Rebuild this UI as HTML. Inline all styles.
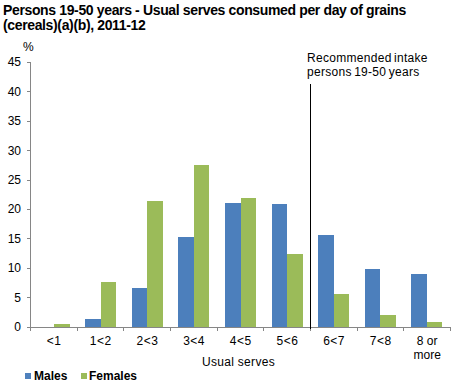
<!DOCTYPE html>
<html><head><meta charset="utf-8"><style>
html,body{margin:0;padding:0;background:#fff;}
body{width:456px;height:388px;position:relative;overflow:hidden;font-family:"Liberation Sans",sans-serif;color:#000;}
.t{position:absolute;white-space:nowrap;line-height:1;}
.title{font-weight:bold;font-size:14px;letter-spacing:-0.36px;}
.lab{font-size:12px;}
svg{position:absolute;left:0;top:0;}
</style></head><body>
<svg width="456" height="388" viewBox="0 0 456 388" shape-rendering="crispEdges">
<rect x="54" y="324" width="16" height="3" fill="#9BBB59"/>
<rect x="85" y="319" width="16" height="8" fill="#4C7FBC"/>
<rect x="101" y="282" width="15" height="45" fill="#9BBB59"/>
<rect x="132" y="288" width="15" height="39" fill="#4C7FBC"/>
<rect x="147" y="201" width="16" height="126" fill="#9BBB59"/>
<rect x="178" y="237" width="16" height="90" fill="#4C7FBC"/>
<rect x="194" y="165" width="15" height="162" fill="#9BBB59"/>
<rect x="225" y="203" width="16" height="124" fill="#4C7FBC"/>
<rect x="241" y="198" width="15" height="129" fill="#9BBB59"/>
<rect x="272" y="204" width="15" height="123" fill="#4C7FBC"/>
<rect x="287" y="254" width="16" height="73" fill="#9BBB59"/>
<rect x="318" y="235" width="16" height="92" fill="#4C7FBC"/>
<rect x="334" y="294" width="15" height="33" fill="#9BBB59"/>
<rect x="365" y="269" width="15" height="58" fill="#4C7FBC"/>
<rect x="380" y="315" width="16" height="12" fill="#9BBB59"/>
<rect x="411" y="274" width="16" height="53" fill="#4C7FBC"/>
<rect x="427" y="322" width="15" height="5" fill="#9BBB59"/>
<rect x="30" y="62" width="1" height="266" fill="#868686"/>
<rect x="30" y="327" width="421" height="1" fill="#868686"/>
<rect x="27" y="62" width="3" height="1" fill="#868686"/>
<rect x="27" y="91" width="3" height="1" fill="#868686"/>
<rect x="27" y="121" width="3" height="1" fill="#868686"/>
<rect x="27" y="150" width="3" height="1" fill="#868686"/>
<rect x="27" y="180" width="3" height="1" fill="#868686"/>
<rect x="27" y="209" width="3" height="1" fill="#868686"/>
<rect x="27" y="238" width="3" height="1" fill="#868686"/>
<rect x="27" y="268" width="3" height="1" fill="#868686"/>
<rect x="27" y="297" width="3" height="1" fill="#868686"/>
<rect x="27" y="327" width="3" height="1" fill="#868686"/>
<rect x="30" y="328" width="1" height="3" fill="#868686"/>
<rect x="77" y="328" width="1" height="3" fill="#868686"/>
<rect x="123" y="328" width="1" height="3" fill="#868686"/>
<rect x="170" y="328" width="1" height="3" fill="#868686"/>
<rect x="217" y="328" width="1" height="3" fill="#868686"/>
<rect x="263" y="328" width="1" height="3" fill="#868686"/>
<rect x="310" y="328" width="1" height="3" fill="#868686"/>
<rect x="357" y="328" width="1" height="3" fill="#868686"/>
<rect x="403" y="328" width="1" height="3" fill="#868686"/>
<rect x="450" y="328" width="1" height="3" fill="#868686"/>
<rect x="310" y="84" width="1" height="245" fill="#000"/>
<rect x="25" y="373" width="6" height="6" fill="#4F81BD"/>
<rect x="81" y="373" width="6" height="6" fill="#9BBB59"/>
</svg>
<div class="t title" id="t1" style="left:3px;top:3px;">Persons 19-50 years - Usual serves consumed per day of grains</div>
<div class="t title" id="t2" style="left:3px;top:18px;">(cereals)(a)(b), 2011-12</div>
<div class="t lab" id="pct" style="left:23px;top:41px;">%</div>
<div id="ylabs">
<div class="t lab" style="right:435px;top:56px;text-align:right;">45</div>
<div class="t lab" style="right:435px;top:86px;text-align:right;">40</div>
<div class="t lab" style="right:435px;top:115px;text-align:right;">35</div>
<div class="t lab" style="right:435px;top:145px;text-align:right;">30</div>
<div class="t lab" style="right:435px;top:174px;text-align:right;">25</div>
<div class="t lab" style="right:435px;top:203px;text-align:right;">20</div>
<div class="t lab" style="right:435px;top:233px;text-align:right;">15</div>
<div class="t lab" style="right:435px;top:262px;text-align:right;">10</div>
<div class="t lab" style="right:435px;top:292px;text-align:right;">5</div>
<div class="t lab" style="right:435px;top:321px;text-align:right;">0</div>
</div>
<div class="t lab" style="left:23.83px;width:60px;text-align:center;top:335px;letter-spacing:0.5px;text-indent:0.5px;">&lt;1</div>
<div class="t lab" style="left:70.50px;width:60px;text-align:center;top:335px;letter-spacing:0.5px;text-indent:0.5px;">1&lt;2</div>
<div class="t lab" style="left:117.17px;width:60px;text-align:center;top:335px;letter-spacing:0.5px;text-indent:0.5px;">2&lt;3</div>
<div class="t lab" style="left:163.83px;width:60px;text-align:center;top:335px;letter-spacing:0.5px;text-indent:0.5px;">3&lt;4</div>
<div class="t lab" style="left:210.50px;width:60px;text-align:center;top:335px;letter-spacing:0.5px;text-indent:0.5px;">4&lt;5</div>
<div class="t lab" style="left:257.17px;width:60px;text-align:center;top:335px;letter-spacing:0.5px;text-indent:0.5px;">5&lt;6</div>
<div class="t lab" style="left:303.83px;width:60px;text-align:center;top:335px;letter-spacing:0.5px;text-indent:0.5px;">6&lt;7</div>
<div class="t lab" style="left:350.50px;width:60px;text-align:center;top:335px;letter-spacing:0.5px;text-indent:0.5px;">7&lt;8</div>
<div class="t lab" style="left:397.17px;width:60px;text-align:center;top:334px;line-height:14px;">8 or<br>more</div>
<div class="t lab" id="us" style="left:202px;top:356px;letter-spacing:0.3px;">Usual serves</div>
<div class="t lab" id="ann1" style="left:307px;top:52px;letter-spacing:0.3px;word-spacing:-1.3px;">Recommended intake</div>
<div class="t lab" id="ann2" style="left:307px;top:66px;letter-spacing:0.3px;word-spacing:-1.3px;">persons 19-50 years</div>
<div class="t lab" style="left:34px;top:370px;font-weight:bold;">Males</div>
<div class="t lab" style="left:89px;top:370px;font-weight:bold;">Females</div>
</body></html>
